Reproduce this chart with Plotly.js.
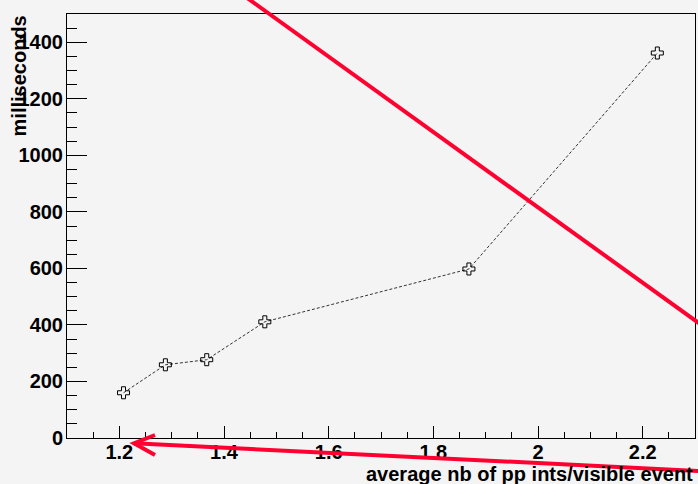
<!DOCTYPE html>
<html>
<head>
<meta charset="utf-8">
<script src="https://cdn.plot.ly/plotly-3.0.1.min.js"></script>
<style>
html,body{margin:0;padding:0;background:#f4f4f4;}
#chart{width:698px;height:484px;}
</style>
</head>
<body>
<div id="chart"></div>
<script>
// Data
var pileup = [1.208, 1.288, 1.367, 1.478, 1.868, 2.228];
var milliseconds = [160, 259, 277, 411, 598, 1362];
var xTickVals = [1.2, 1.4, 1.6, 1.8, 2.0, 2.2];
var yTickVals = [0, 200, 400, 600, 800, 1000, 1200, 1400];
var xTitle = "average nb of pp ints/visible event";
var yTitle = "milliseconds";

var fnt = {family: "Liberation Sans, Arial, sans-serif", size: 20, color: "#000", weight: "bold"};
var red = "rgb(255,0,48)";

var trace = {
  x: pileup, y: milliseconds, type: "scatter", mode: "lines+markers",
  line: {color: "#333", width: 1, dash: "3px,2px"},
  marker: {symbol: "cross-open", size: 10, color: "#000", line: {color: "#000", width: 1}},
  hoverinfo: "none", cliponaxis: false
};

var layout = {
  width: 698, height: 484,
  margin: {l: 67, r: 3, t: 14, b: 46, pad: 0},
  paper_bgcolor: "#f4f4f4", plot_bgcolor: "#f4f4f4",
  showlegend: false,
  font: fnt,
  xaxis: {
    range: [1.1, 2.3], tickvals: xTickVals, ticks: "inside", ticklen: 12, tickwidth: 1, tickcolor: "#000",
    showline: true, linecolor: "#000", linewidth: 1, mirror: true, showgrid: false, zeroline: false,
    tickfont: fnt, ticklabelstandoff: -4,
    minor: {dtick: 0.05, tick0: 1.1, ticks: "inside", ticklen: 6, tickcolor: "#000", tickwidth: 1, showgrid: false}
  },
  yaxis: {
    range: [0, 1500], tickvals: yTickVals, ticks: "inside", ticklen: 20, tickwidth: 1, tickcolor: "#000",
    showline: true, linecolor: "#000", linewidth: 1, mirror: true, showgrid: false, zeroline: false,
    tickfont: fnt, ticklabelstandoff: -1,
    minor: {dtick: 50, tick0: 0, ticks: "inside", ticklen: 10, tickcolor: "#000", tickwidth: 1, showgrid: false}
  },
  annotations: [
    {text: xTitle, xref: "paper", yref: "paper", x: 1, y: -0.085, xanchor: "right", yanchor: "middle",
     showarrow: false, font: fnt},
    {text: yTitle, xref: "paper", yref: "paper", x: -0.0772, y: 0.854, xanchor: "center", yanchor: "middle",
     textangle: -90, showarrow: false, font: fnt}
  ],
  shapes: [
    {type: "line", xref: "paper", yref: "paper", x0: 0.2834, y0: 1.0415, x1: 1.008, y1: 0.2689,
     line: {color: red, width: 4}},
    {type: "line", xref: "paper", yref: "paper", x0: 1.008, y0: -0.0778, x1: 0.1067, y1: -0.0125,
     line: {color: red, width: 4}},
    {type: "path", xref: "paper", yref: "paper",
     path: "M 0.1401 0.00708 L 0.1067 -0.0125 L 0.1401 -0.0401",
     line: {color: red, width: 4}}
  ]
};

Plotly.newPlot("chart", [trace], layout, {staticPlot: true, displayModeBar: false});
</script>
</body>
</html>
